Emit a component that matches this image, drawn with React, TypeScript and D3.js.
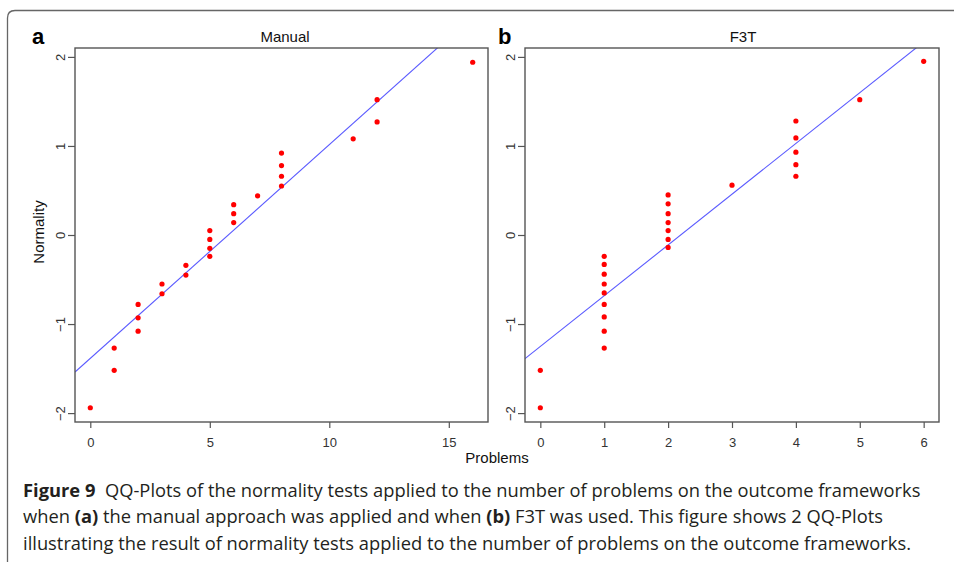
import { useEffect, useRef } from 'react';
import * as d3 from 'd3';

// theoretical normal quantiles (same 26 positions in both panels)
const normalityManual = [-1.94, -1.52, -1.27, -1.08, -0.93, -0.78, -0.66, -0.55, -0.45, -0.34, -0.24, -0.15, -0.05, 0.05, 0.14, 0.24, 0.34, 0.44, 0.55, 0.66, 0.78, 0.92, 1.08, 1.27, 1.52, 1.94];
const problemsManual = [0, 1, 1, 2, 2, 2, 3, 3, 4, 4, 5, 5, 5, 5, 6, 6, 6, 7, 8, 8, 8, 8, 11, 12, 12, 16];

const normalityF3T = [-1.94, -1.52, -1.27, -1.08, -0.92, -0.78, -0.65, -0.55, -0.44, -0.33, -0.24, -0.14, -0.05, 0.05, 0.14, 0.24, 0.35, 0.45, 0.56, 0.66, 0.79, 0.93, 1.09, 1.28, 1.52, 1.95];
const problemsF3T = [0, 0, 1, 1, 1, 1, 1, 1, 1, 1, 1, 2, 2, 2, 2, 2, 2, 2, 3, 4, 4, 4, 4, 4, 5, 6];

// qq reference lines (intercept, slope)
const lineManual = [-1.385, 0.24];
const lineF3T = [-1.252, 0.57];

const xTicksManual = [0, 5, 10, 15];
const xTicksF3T = [0, 1, 2, 3, 4, 5, 6];
const yTicks = [-2, -1, 0, 1, 2];

const captionLines = [
  [{ t: 'Figure 9', b: true }, { t: '  QQ-Plots of the normality tests applied to the number of problems on the outcome frameworks', b: false }],
  [{ t: 'when ', b: false }, { t: '(a)', b: true }, { t: ' the manual approach was applied and when ', b: false }, { t: '(b)', b: true }, { t: ' F3T was used. This figure shows 2 QQ-Plots', b: false }],
  [{ t: 'illustrating the result of normality tests applied to the number of problems on the outcome frameworks.', b: false }],
];

const font = '"Liberation Sans", Arial, sans-serif';

const App = () => {
  const svgRef = useRef(null);

  useEffect(() => {
    const svg = d3.select(svgRef.current);
    svg.selectAll('*').remove();

    // outer frame
    svg.append('path')
      .attr('d', 'M7.5,570 L7.5,18 Q7.5,10.5 15,10.5 L960,10.5')
      .attr('fill', 'none')
      .attr('stroke', '#666')
      .attr('stroke-width', 1.3);

    const panels = [
      { id: 'a', title: 'Manual', xs: problemsManual, ys: normalityManual, line: lineManual, ticks: xTicksManual, domain: [-0.64, 16.64], box: [75, 488], titleX: 285, letterX: 32 },
      { id: 'b', title: 'F3T', xs: problemsF3T, ys: normalityF3T, line: lineF3T, ticks: xTicksF3T, domain: [-0.24, 6.24], box: [525, 939], titleX: 743, letterX: 498 },
    ];
    const top = 48;
    const bottom = 422;

    panels.forEach(p => {
      const x = d3.scaleLinear().domain(p.domain).range(p.box);
      const y = d3.scaleLinear().domain([-2.1, 2.1]).range([bottom, top]);
      const g = svg.append('g');

      g.append('clipPath').attr('id', 'clip-' + p.id)
        .append('rect')
        .attr('x', p.box[0]).attr('y', top)
        .attr('width', p.box[1] - p.box[0]).attr('height', bottom - top);

      // reference line
      const [b0, b1] = p.line;
      g.append('line')
        .attr('clip-path', `url(#clip-${p.id})`)
        .attr('x1', x(p.domain[0])).attr('y1', y(b0 + b1 * p.domain[0]))
        .attr('x2', x(p.domain[1])).attr('y2', y(b0 + b1 * p.domain[1]))
        .attr('stroke', '#5a5aff')
        .attr('stroke-width', 1.1);

      // points
      g.selectAll('.pt')
        .data(p.xs.map((v, i) => [v, p.ys[i]]))
        .enter()
        .append('circle')
        .attr('cx', d => x(d[0]))
        .attr('cy', d => y(d[1]))
        .attr('r', 2.6)
        .attr('fill', '#ff0000');

      // box
      g.append('rect')
        .attr('x', p.box[0]).attr('y', top)
        .attr('width', p.box[1] - p.box[0]).attr('height', bottom - top)
        .attr('fill', 'none')
        .attr('stroke', '#555')
        .attr('stroke-width', 1.4);

      // x axis
      const xa = g.append('g')
        .attr('transform', `translate(0,${bottom})`)
        .call(d3.axisBottom(x).tickValues(p.ticks).tickSize(6).tickSizeOuter(0).tickPadding(10).tickFormat(d3.format('d')));
      xa.select('.domain').remove();
      xa.selectAll('line').attr('stroke', '#555').attr('stroke-width', 1.2);
      xa.selectAll('text')
        .attr('fill', '#333')
        .style('font-family', font)
        .style('font-size', '13px');

      // y axis, labels parallel to the axis
      const ya = g.append('g')
        .attr('transform', `translate(${p.box[0]},0)`)
        .call(d3.axisLeft(y).tickValues(yTicks).tickSize(7).tickSizeOuter(0).tickFormat(d3.format('d')));
      ya.select('.domain').remove();
      ya.selectAll('line').attr('stroke', '#555').attr('stroke-width', 1.2);
      ya.selectAll('text')
        .attr('x', null)
        .attr('text-anchor', 'middle')
        .attr('transform', 'translate(-15,0) rotate(-90) translate(0,-4)')
        .attr('dy', '0.71em')
        .attr('fill', '#333')
        .style('font-family', font)
        .style('font-size', '13px');

      // title and panel letter
      g.append('text')
        .attr('x', p.titleX).attr('y', 42)
        .attr('text-anchor', 'middle')
        .style('font-family', font)
        .style('font-size', '15px')
        .attr('fill', '#111')
        .text(p.title);

      g.append('text')
        .attr('x', p.letterX).attr('y', 44)
        .style('font-family', font)
        .style('font-size', '22px')
        .style('font-weight', 'bold')
        .attr('fill', '#000')
        .text(p.id);
    });

    // axis titles
    svg.append('text')
      .attr('x', 497).attr('y', 463)
      .attr('text-anchor', 'middle')
      .style('font-family', font)
      .style('font-size', '15px')
      .attr('fill', '#111')
      .text('Problems');

    svg.append('text')
      .attr('transform', 'translate(44,232) rotate(-90)')
      .attr('text-anchor', 'middle')
      .style('font-family', font)
      .style('font-size', '15px')
      .attr('fill', '#111')
      .text('Normality');

    // caption
    const cap = svg.append('g');
    const rows = captionLines.map((parts, i) => {
      const t = cap.append('text')
        .attr('x', 0)
        .attr('y', 497 + i * 26.5)
        .style('font-family', '"Open Sans", "Noto Sans", sans-serif')
        .style('font-size', '18.5px')
        .style('white-space', 'pre')
        .attr('fill', '#231f20');
      parts.forEach(s => {
        t.append('tspan')
          .style('font-weight', s.b ? 'bold' : 'normal')
          .text(s.t);
      });
      return t;
    });
    const natural = rows[0].node().getComputedTextLength();
    const sx = natural > 0 ? 898 / natural : 1;
    cap.attr('transform', `translate(23,0) scale(${sx},1)`);
  }, []);

  return (
    <div className="relative">
      <svg ref={svgRef} width={954} height={562} style={{ position: 'absolute', left: 0, top: 0, background: '#fff' }}></svg>
    </div>
  );
};

export default App;
